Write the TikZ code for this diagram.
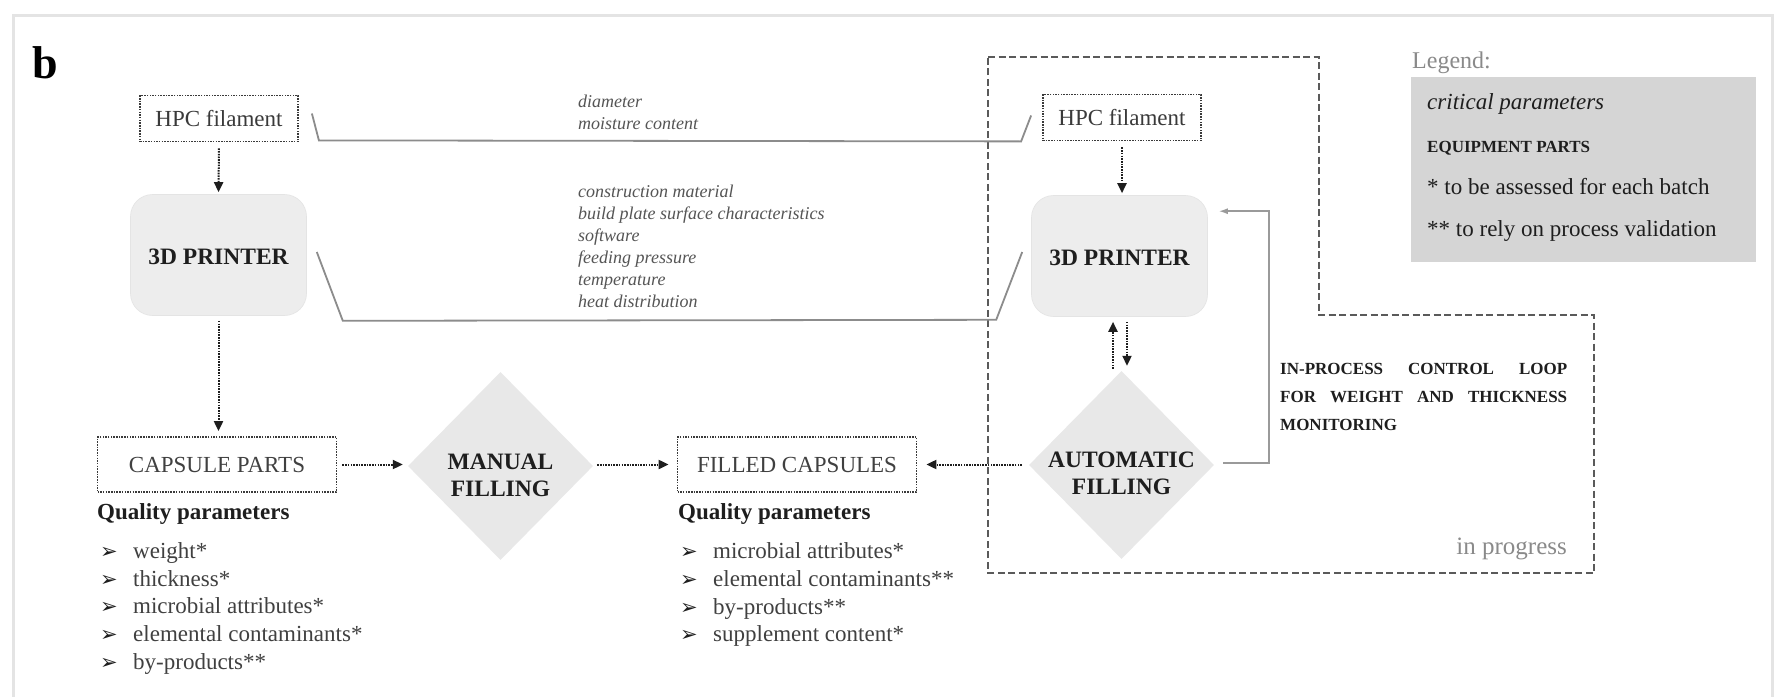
\documentclass[tikz,border=0pt]{standalone}
\usepackage{fontspec}
\setmainfont{Liberation Serif}
\newfontfamily\dingfont{DejaVu Sans}
\usetikzlibrary{arrows.meta,calc,shapes.geometric}

\definecolor{ink}{HTML}{1E1E1E}
\definecolor{boxtext}{HTML}{3A3A3A}
\definecolor{paramtext}{HTML}{555555}
\definecolor{listtext}{HTML}{404040}
\definecolor{framegray}{HTML}{E4E4E4}
\definecolor{bracketgray}{HTML}{8C8C8C}
\definecolor{printerfill}{HTML}{EDEDED}
\definecolor{diamondfill}{HTML}{E8E8E8}
\definecolor{legendfill}{HTML}{D5D5D5}
\definecolor{regionline}{HTML}{5A5A5A}
\definecolor{loopgray}{HTML}{9A9A9A}
\definecolor{softgray}{HTML}{8A8A8A}

\newcommand{\fsz}[2]{\fontsize{#1}{#2}\selectfont}
\newcommand{\bul}{\makebox[33pt][l]{\dingfont\fsz{21}{21}\textcolor{ink}{➢}}}

\tikzset{
  matbox/.style={draw=boxtext, line width=1.8pt, dash pattern=on 1.5pt off 1.2pt,
    minimum width=158pt, minimum height=46pt, inner sep=0pt, text=boxtext, font=\fsz{23}{27}},
  capbox/.style={matbox, minimum width=239pt, minimum height=55pt, text=listtext},
  printer/.style={fill=printerfill, draw=printerfill!96!black, line width=0.6pt,
    rounded corners=22pt, minimum width=176pt, minimum height=121pt, inner sep=0pt},
  decision/.style={diamond, fill=diamondfill, minimum width=185pt, minimum height=188pt, inner sep=0pt},
  boldlabel/.style={font=\bfseries\fsz{23.5}{27}, text=ink, align=center, inner sep=0pt},
  flow/.style={draw=ink, line width=2pt, dash pattern=on 1.6pt off 1.1pt,
    -{Triangle[length=10pt,width=9pt]}},
  bracket/.style={draw=bracketgray, line width=1.8pt},
  feedback/.style={draw=loopgray, line width=1.5pt, -{Latex[length=9pt,width=6pt]}},
  region/.style={draw=regionline, line width=2.4pt, dash pattern=on 7pt off 3.5pt},
  params/.style={font=\itshape\fsz{18}{22}, text=paramtext, align=left, inner sep=0pt, anchor=west},
  listitem/.style={font=\fsz{23}{27}, text=listtext, inner sep=0pt, anchor=base west},
  qhead/.style={font=\bfseries\fsz{23}{27}, text=ink, inner sep=0pt, anchor=base west},
  legtext/.style={font=\fsz{23}{27}, text=ink, inner sep=0pt, anchor=base west}
}

\begin{document}
\begin{tikzpicture}[x=1pt, y=-1pt]
\useasboundingbox (0,0) rectangle (1784,696);
\fill[white] (0,0) rectangle (1784,696);

% outer panel frame
\draw[framegray, line width=3pt] (13,15) rectangle (1772,730);

% panel letter
\node[font=\bfseries\fsz{46}{50}, text=black, inner sep=0pt, anchor=base west] (panel) at (32,78) {b};

% area of the automated set-up
\draw[region] (988,57) -- (1319,57) -- (1319,315) -- (1594,315) -- (1594,573) -- (988,573) -- cycle;
\node[font=\fsz{25}{28}, text=softgray, inner sep=0pt, anchor=base east] (prog) at (1567,554) {in progress};

% material boxes
\node[matbox] (hpcL) at (219,118.5) {HPC filament};
\node[matbox] (hpcR) at (1122,117.5) {HPC filament};

% printers
\node[printer] (prL) at (218.5,255) {};
\node[boldlabel] (prLt) at ($(prL)+(0,2)$) {3D PRINTER};
\node[printer] (prR) at (1119.5,256) {};
\node[boldlabel] (prRt) at ($(prR)+(0,2)$) {3D PRINTER};

% capsule boxes
\node[capbox] (cp) at (217,464.5) {CAPSULE PARTS};
\node[capbox] (fc) at (797,464.5) {FILLED CAPSULES};

% filling steps
\node[decision] (mf) at (500.5,466) {};
\node[boldlabel] (mft) at ($(mf)+(0,9.5)$) {MANUAL\\FILLING};
\node[decision] (af) at (1121.5,465) {};
\node[boldlabel] (aft) at ($(af)+(0,8.5)$) {AUTOMATIC\\FILLING};

% brackets joining the two branches, with their critical parameters
\draw[bracket] ($(hpcL.east)+(13,-5)$) -- ($(hpcL.south east)+(20,-2)$)
  -- ($(hpcR.south west)+(-21,0)$) -- ($(hpcR.west)+(-11,-2)$);
\node[params] (p1) at (578,112) {diameter\\moisture content};
\draw[bracket] ($(prL.east)+(10,-3)$) -- ($(prL.south east)+(36,5)$)
  -- ($(prR.south west)+(-35,3)$) -- ($(prR.west)+(-9,-4)$);
\node[params] (p2) at (578,246) {construction material\\build plate surface characteristics\\software\\feeding pressure\\temperature\\heat distribution};

% process flow
\draw[flow, shorten <=6pt, shorten >=2pt] (hpcL.south) -- (prL.north);
\draw[flow, shorten <=6pt, shorten >=2pt] (hpcR.south) -- (hpcR.south |- prR.north);
\draw[flow, shorten <=5pt, shorten >=5pt] (prL.south) -- (prL.south |- cp.north);
\draw[flow, shorten <=5pt, shorten >=5pt] (cp.east) -- (cp.east -| mf.west);
\draw[flow, shorten <=4pt, shorten >=8pt] (mf.east |- fc.west) -- (fc.west);
\draw[flow, shorten <=7pt, shorten >=9pt] (af.west |- fc.east) -- (fc.east);
\draw[flow] ($(af.north)+(-8.5,-2)$) -- ($(prR.south)+(-6.5,5)$);
\draw[flow] ($(prR.south)+(7.5,5)$) -- ($(af.north)+(5.5,-5)$);

% in-process control loop
\draw[feedback] ($(af.east)+(9,-2)$) -| ($(prR.north east)+(61,16)$) -- ($(prR.north east)+(11,16)$);
\node[font=\bfseries\fsz{17}{28}, text=ink, text width=287pt, align=justify, inner sep=0pt, anchor=north west] (ipc) at (1280,363.5)
  {IN-PROCESS CONTROL LOOP\linebreak FOR WEIGHT AND THICKNESS\linebreak MONITORING};

% quality parameters of the capsule parts
\node[qhead] (cpq) at (97,519) {Quality parameters};
\node[listitem] (cpq1) at (100,558) {\bul weight*};
\node[listitem] (cpq2) at (100,586) {\bul thickness*};
\node[listitem] (cpq3) at (100,613) {\bul microbial attributes*};
\node[listitem] (cpq4) at (100,641) {\bul elemental contaminants*};
\node[listitem] (cpq5) at (100,669) {\bul by-products**};

% quality parameters of the filled capsules
\node[qhead] (fcq) at (678,519) {Quality parameters};
\node[listitem] (fcq1) at (680,558) {\bul microbial attributes*};
\node[listitem] (fcq2) at (680,586) {\bul elemental contaminants**};
\node[listitem] (fcq3) at (680,614) {\bul by-products**};
\node[listitem] (fcq4) at (680,641) {\bul supplement content*};

% legend
\node[font=\fsz{24}{28}, text=softgray, inner sep=0pt, anchor=base west] (legt) at (1412,68) {Legend:};
\fill[legendfill] (1411,77) rectangle (1756,262);
\node[legtext, font=\itshape\fsz{23}{27}] (leg1) at (1427,109) {critical parameters};
\node[legtext, font=\bfseries\fsz{17}{20}] (leg2) at (1427,152.5) {EQUIPMENT PARTS};
\node[legtext] (leg3) at (1427,194) {* to be assessed for each batch};
\node[legtext] (leg4) at (1427,236) {** to rely on process validation};
\end{tikzpicture}
\end{document}
